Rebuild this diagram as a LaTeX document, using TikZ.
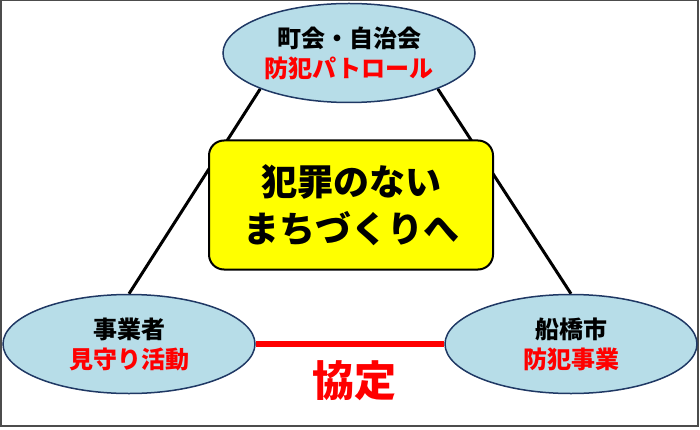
\documentclass[tikz,border=0pt]{standalone}
\usepackage{fontspec}
\setmainfont{Noto Sans CJK JP}
\usepackage{tikz}
\usetikzlibrary{shapes.geometric,backgrounds}
\usepackage{xcolor}
\definecolor{ovalblue}{RGB}{183,221,232}
\definecolor{ovalline}{RGB}{31,56,100}
\definecolor{boxyellow}{RGB}{255,255,0}

\begin{document}
\begin{tikzpicture}[x=1pt,y=-1pt,
  party/.style={ellipse,draw=ovalline,line width=1.5pt,fill=ovalblue,
    minimum width=252pt,minimum height=99pt,inner sep=0pt,align=center,
    font=\fontsize{24}{30}\selectfont\bfseries},
  goal/.style={rectangle,rounded corners=15pt,draw=black,line width=2pt,
    fill=boxyellow,minimum width=284pt,minimum height=129pt,align=center,
    font=\fontsize{36}{47}\selectfont\bfseries},
  link/.style={line width=3pt,black},
  pact/.style={line width=5.5pt,red}
]
\useasboundingbox (0,0) rectangle (700,430);
\draw[gray!60!black,line width=1.5pt] (0.75,0.75) rectangle (698,426);

\node[party] (town)  at (349,53)  {町会・自治会\\\textcolor{red}{防犯パトロール}};
\node[party] (biz)   at (129,344) {事業者\\\textcolor{red}{見守り活動}};
\node[party] (city)  at (571,344) {船橋市\\\textcolor{red}{防犯事業}};
\node[goal]  (aim)   at (351,205) {犯罪のない\\まちづくりへ};
\node[font=\fontsize{42}{42}\selectfont\bfseries,red] (kyotei) at (354,381) {協定};

\begin{scope}[on background layer]
\draw[link] (town.202) -- (biz.north);
\draw[link] (town.338) -- (city.north);
\end{scope}
\draw[pact] (biz.east) -- (city.west);
\end{tikzpicture}
\end{document}
